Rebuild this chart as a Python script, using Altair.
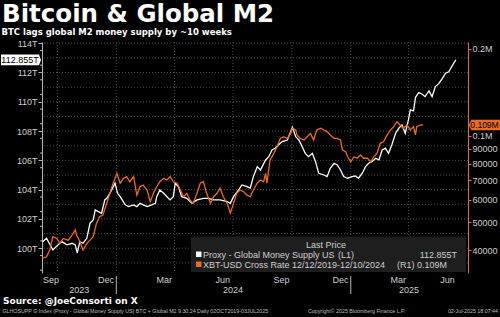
import altair as alt
import pandas as pd

# Proxy - Global Money Supply US (trillions of USD)
m2_dates = [
    "2023-09-08", "2023-09-14", "2023-09-19", "2023-09-24", "2023-10-02", "2023-10-08",
    "2023-10-16", "2023-10-24", "2023-10-29", "2023-11-01", "2023-11-05", "2023-11-10",
    "2023-11-16", "2023-11-21", "2023-11-26", "2023-11-29", "2023-12-04", "2023-12-09",
    "2023-12-14", "2023-12-17", "2023-12-22", "2023-12-30", "2024-01-03", "2024-01-07",
    "2024-01-15", "2024-01-20", "2024-01-28", "2024-02-02", "2024-02-07", "2024-02-12",
    "2024-02-18", "2024-02-25", "2024-03-02", "2024-03-04", "2024-03-09", "2024-03-15",
    "2024-03-20", "2024-03-25", "2024-03-30", "2024-04-02", "2024-04-07", "2024-04-12",
    "2024-04-20", "2024-04-28", "2024-05-06", "2024-05-16", "2024-05-24", "2024-06-01",
    "2024-06-11", "2024-06-22", "2024-06-27", "2024-07-02", "2024-07-10", "2024-07-15",
    "2024-07-23", "2024-07-28", "2024-08-02", "2024-08-08", "2024-08-13", "2024-08-21",
    "2024-08-26", "2024-08-31", "2024-09-05", "2024-09-10", "2024-09-16", "2024-09-24",
    "2024-09-29", "2024-10-02", "2024-10-07", "2024-10-12", "2024-10-17", "2024-10-22",
    "2024-10-27", "2024-11-02", "2024-11-07", "2024-11-12", "2024-11-20", "2024-11-25",
    "2024-11-30", "2024-12-06", "2024-12-11", "2024-12-16", "2024-12-21", "2024-12-27",
    "2025-01-03", "2025-01-08", "2025-01-13", "2025-01-19", "2025-01-24", "2025-01-29",
    "2025-02-03", "2025-02-09", "2025-02-14", "2025-02-19", "2025-02-24", "2025-03-01",
    "2025-03-06", "2025-03-12", "2025-03-17", "2025-03-22", "2025-03-27", "2025-04-01",
    "2025-04-04", "2025-04-09", "2025-04-12", "2025-04-17", "2025-04-22", "2025-04-27",
    "2025-05-03", "2025-05-08", "2025-05-13", "2025-05-18", "2025-05-24", "2025-05-29",
    "2025-06-03", "2025-06-09", "2025-06-14",
]
m2_values = [
    100.45, 100.68, 100.29, 99.88, 100.23, 100.45,
    100.23, 100.34, 100.23, 99.66, 100.45, 100.34,
    100.68, 101.71, 101.93, 102.61, 102.50, 102.39,
    103.30, 103.41, 103.75, 104.44, 103.75, 103.52,
    102.96, 102.84, 102.96, 102.84, 103.07, 102.96,
    102.84, 102.96, 103.07, 103.52, 103.98, 103.75,
    103.52, 103.30, 103.52, 104.44, 104.20, 103.52,
    103.41, 103.07, 103.30, 103.41, 103.41, 103.30,
    103.30, 103.18, 103.07, 103.52, 103.98, 104.32,
    104.20, 104.10, 104.89, 105.57, 105.34, 106.03,
    106.25, 106.71, 106.83, 107.05, 107.28, 107.39,
    107.96, 108.26, 107.62, 107.39, 106.94, 106.48,
    106.25, 106.48, 105.91, 105.12, 105.00, 104.89,
    105.46, 105.80, 105.69, 105.34, 104.89, 104.78,
    104.89, 104.94, 104.78, 105.12, 105.57, 105.80,
    105.91, 106.14, 106.03, 106.71, 106.83, 106.48,
    107.05, 107.85, 108.19, 108.42, 107.85, 108.76,
    109.44, 109.37, 110.29, 110.63, 110.53, 110.35,
    110.74, 110.35, 111.04, 111.22, 111.60, 111.95,
    112.05, 112.51, 112.855,
]

# XBT-USD cross rate (USD)
btc_dates = [
    "2023-09-07", "2023-09-14", "2023-09-19", "2023-09-24", "2023-09-30", "2023-10-05",
    "2023-10-10", "2023-10-18", "2023-10-24", "2023-10-29", "2023-10-31", "2023-11-05",
    "2023-11-10", "2023-11-16", "2023-11-21", "2023-11-26", "2023-12-01", "2023-12-06",
    "2023-12-11", "2023-12-17", "2023-12-22", "2023-12-27", "2024-01-02", "2024-01-07",
    "2024-01-12", "2024-01-17", "2024-01-22", "2024-01-28", "2024-02-02", "2024-02-07",
    "2024-02-12", "2024-02-18", "2024-02-23", "2024-02-28", "2024-03-04", "2024-03-09",
    "2024-03-15", "2024-03-20", "2024-03-25", "2024-03-30", "2024-04-05", "2024-04-10",
    "2024-04-15", "2024-04-20", "2024-04-25", "2024-04-30", "2024-05-06", "2024-05-11",
    "2024-05-16", "2024-05-21", "2024-05-27", "2024-06-01", "2024-06-06", "2024-06-11",
    "2024-06-16", "2024-06-22", "2024-06-27", "2024-07-02", "2024-07-07", "2024-07-12",
    "2024-07-18", "2024-07-23", "2024-07-28", "2024-08-02", "2024-08-08", "2024-08-13",
    "2024-08-18", "2024-08-21", "2024-08-23", "2024-08-28", "2024-09-03", "2024-09-08",
    "2024-09-13", "2024-09-18", "2024-09-24", "2024-09-29", "2024-10-02", "2024-10-07",
    "2024-10-09", "2024-10-14", "2024-10-20", "2024-10-25", "2024-10-30", "2024-11-04",
    "2024-11-09", "2024-11-15", "2024-11-20", "2024-11-25", "2024-11-30", "2024-12-06",
    "2024-12-11", "2024-12-16", "2024-12-19", "2024-12-24", "2024-12-27", "2025-01-01",
    "2025-01-06", "2025-01-11", "2025-01-16", "2025-01-21", "2025-01-27", "2025-02-01",
    "2025-02-06", "2025-02-11", "2025-02-16", "2025-02-21", "2025-02-27", "2025-03-04",
    "2025-03-09", "2025-03-14", "2025-03-19", "2025-03-24", "2025-03-30", "2025-04-04",
    "2025-04-09", "2025-04-12", "2025-04-14", "2025-04-19", "2025-04-24",
]
btc_values = [
    37500, 38000, 40100, 44600, 44000, 42300,
    44000, 43400, 45200, 47100, 45200, 42900,
    40100, 42300, 43400, 44600, 49600, 52300,
    53000, 58200, 63100, 68400, 74000, 68400,
    71100, 72100, 69200, 72100, 62200, 66500,
    67400, 64800, 59000, 63100, 66500, 69200,
    71100, 70200, 72100, 69200, 68400, 64800,
    61400, 63100, 59800, 58200, 63100, 68400,
    69200, 63100, 58200, 61400, 63100, 65700,
    61400, 58200, 53800, 58200, 63100, 64800,
    63900, 62200, 61400, 64800, 68400, 70200,
    69200, 74000, 68400, 82300, 86900, 91600,
    97900, 99200, 97900, 101900, 106100, 104700,
    100600, 97900, 96600, 99200, 101900, 96600,
    104700, 106100, 104700, 103300, 100600, 97900,
    97900, 96600, 89200, 88000, 84500, 81200,
    84500, 83500, 85700, 83500, 83500, 81200,
    84500, 86900, 94100, 95300, 100600, 104700,
    107500, 111800, 108900, 106100, 108900, 104700,
    107500, 100600, 107500, 108900, 109000,
]

# Axis ticks and labels
month_starts = [
    "2023-10-01", "2023-11-01", "2023-12-01", "2024-01-01", "2024-02-01", "2024-03-01",
    "2024-04-01", "2024-05-01", "2024-06-01", "2024-07-01", "2024-08-01", "2024-09-01",
    "2024-10-01", "2024-11-01", "2024-12-01", "2025-01-01", "2025-02-01", "2025-03-01",
    "2025-04-01", "2025-05-01", "2025-06-01", "2025-07-01",
]
quarter_lines = ["2023-10-01", "2024-01-01", "2024-04-01", "2024-07-01",
                 "2024-10-01", "2025-01-01", "2025-04-01"]
month_labels = ["Sep", "Dec", "Mar", "Jun", "Sep", "Dec", "Mar", "Jun"]
month_label_dates = ["2023-09-21", "2023-12-16", "2024-03-16", "2024-06-15",
                     "2024-09-15", "2024-12-16", "2025-03-16", "2025-06-01"]
year_labels = ["2023", "2024", "2025"]
year_label_dates = ["2023-11-04", "2024-07-01", "2025-04-02"]
year_breaks = ["2024-01-01", "2025-01-01"]

left_ticks = [100, 102, 104, 106, 108, 110, 112, 114]
left_grid = [99, 100, 101, 102, 103, 104, 105, 106, 107, 108, 109, 110, 111, 112, 113, 114]
left_minor = [98.5, 99.5, 100.5, 101.5, 102.5, 103.5, 104.5, 105.5, 106.5,
              107.5, 108.5, 109.5, 110.5, 111.5, 112.5, 113.5]
right_ticks = [40000, 50000, 60000, 70000, 80000, 90000, 100000, 200000]

X_START, X_END = "2023-09-07", "2025-07-03"

WHITE = "#ffffff"
ORANGE = "#ea6b24"
LABEL = "#cfcfcf"
GRID = "#4d4d4d"
AXIS = "#b5b5b5"
FONT = "Liberation Sans"
BOLD = "DejaVu Sans"

W, H = 426, 231


def dt(s):
    y, m, d = (int(p) for p in s.split("-"))
    return alt.DateTime(year=y, month=m, date=d)


m2 = pd.DataFrame({"date": pd.to_datetime(m2_dates), "value": m2_values})
btc = pd.DataFrame({"date": pd.to_datetime(btc_dates), "value": btc_values})

m2_last = m2_values[-1]
btc_last = btc_values[-1]
m2_last_text = f"{m2_last:.3f}T"
btc_last_text = f"{btc_last / 1e6:.3f}M"

LEFT_DOMAIN = [98.31, 114.08]
RIGHT_DOMAIN = [33370, 211500]


def xs():
    return alt.Scale(domain=[dt(X_START), dt(X_END)])


def ys_left():
    return alt.Scale(domain=LEFT_DOMAIN, nice=False, zero=False)


def ys_right():
    return alt.Scale(type="log", domain=RIGHT_DOMAIN, nice=False)


x_axis = alt.Axis(
    title=None, labels=False, grid=False,
    values=[dt(s) for s in month_starts],
    tickSize=3, tickColor=AXIS, domainColor=AXIS, domainWidth=1,
)
left_axis = alt.Axis(
    title=None, orient="left", values=left_ticks, grid=False,
    labelExpr="datum.value + 'T'", labelColor=LABEL, labelFont=FONT, labelFontSize=9,
    labelPadding=1, tickSize=4, tickColor=AXIS, domainColor=AXIS,
)
right_axis = alt.Axis(
    title=None, orient="right", values=right_ticks, grid=False,
    labelExpr="datum.value >= 100000 ? format(datum.value / 1000000, '.1f') + 'M' : format(datum.value, 'd')",
    labelColor=LABEL, labelFont=FONT, labelFontSize=9, labelPadding=1,
    tickSize=3, tickColor=ORANGE, domainColor=ORANGE,
)


def note(text, x, y, size=9, color=LABEL, font=FONT, weight="normal", align="left"):
    return alt.Chart(pd.DataFrame({"label": [text]})).mark_text(
        align=align, baseline="alphabetic", font=font, fontSize=size,
        fontWeight=weight, color=color,
    ).encode(x=alt.value(x), y=alt.value(y), text="label:N")


def box(x, x2, y, y2, color, opacity=1.0):
    return alt.Chart(pd.DataFrame({"k": [0]})).mark_rect(
        color=color, opacity=opacity
    ).encode(x=alt.value(x), x2=alt.value(x2), y=alt.value(y), y2=alt.value(y2))


# gridlines and minor ticks on the left (M2) scale
grid_h = alt.Chart(pd.DataFrame({"v": left_grid})).mark_rule(
    color=GRID, strokeDash=[1, 2], strokeWidth=1
).encode(y=alt.Y("v:Q", scale=ys_left(), axis=None))

minor_ticks = alt.Chart(pd.DataFrame({"v": left_minor})).mark_rule(
    color=AXIS, strokeWidth=1
).encode(y=alt.Y("v:Q", scale=ys_left(), axis=None), x=alt.value(-2), x2=alt.value(0))

grid_v = alt.Chart(pd.DataFrame({"date": pd.to_datetime(quarter_lines)})).mark_rule(
    color=GRID, strokeDash=[1, 2], strokeWidth=1
).encode(x=alt.X("date:T", scale=xs(), axis=None))

# M2 line with its last-price tag
m2_line = alt.Chart(m2).mark_line(color=WHITE, strokeWidth=1.3).encode(
    x=alt.X("date:T", scale=xs(), axis=x_axis),
    y=alt.Y("value:Q", scale=ys_left(), axis=left_axis),
)
m2_tag_df = pd.DataFrame({"value": [m2_last], "label": [m2_last_text]})
m2_tag = alt.Chart(m2_tag_df).mark_point(
    shape="M-1,-0.27L0.9,-0.27L1,0L0.9,0.27L-1,0.27Z",
    filled=True, size=1600, color=WHITE, opacity=1, strokeWidth=0,
).encode(x=alt.value(-21), y=alt.Y("value:Q", scale=ys_left(), axis=None))
m2_tag_text = alt.Chart(m2_tag_df).mark_text(
    font=FONT, fontSize=9, color="#000000", align="center", baseline="middle"
).encode(x=alt.value(-22), y=alt.Y("value:Q", scale=ys_left(), axis=None), text="label:N")

# BTC line with its last-price tag
btc_line = alt.Chart(btc).mark_line(color=ORANGE, strokeWidth=1.3).encode(
    x=alt.X("date:T", scale=xs(), axis=None),
    y=alt.Y("value:Q", scale=ys_right(), axis=right_axis),
)
btc_tag_df = pd.DataFrame({"value": [btc_last], "label": [btc_last_text]})
btc_tag = alt.Chart(btc_tag_df).mark_point(
    shape="M-1,0L-0.84,-0.31L1,-0.31L1,0.31L-0.84,0.31Z",
    filled=True, size=1130, color=ORANGE, opacity=1, strokeWidth=0,
).encode(x=alt.value(443.5), y=alt.Y("value:Q", scale=ys_right(), axis=None))
btc_tag_text = alt.Chart(btc_tag_df).mark_text(
    font=FONT, fontSize=8.5, color="#000000", align="center", baseline="middle"
).encode(x=alt.value(442.5), y=alt.Y("value:Q", scale=ys_right(), axis=None), text="label:N")

# date labels below the axis
months = alt.Chart(pd.DataFrame({"date": pd.to_datetime(month_label_dates),
                                 "label": month_labels})).mark_text(
    font=FONT, fontSize=9, color=LABEL, align="center", baseline="alphabetic"
).encode(x=alt.X("date:T", scale=xs(), axis=None), y=alt.value(241), text="label:N")

years = alt.Chart(pd.DataFrame({"date": pd.to_datetime(year_label_dates),
                                "label": year_labels})).mark_text(
    font=FONT, fontSize=9, color=LABEL, align="center", baseline="alphabetic"
).encode(x=alt.X("date:T", scale=xs(), axis=None), y=alt.value(251), text="label:N")

year_sep = alt.Chart(pd.DataFrame({"date": pd.to_datetime(year_breaks)})).mark_rule(
    color=AXIS, strokeWidth=1
).encode(x=alt.X("date:T", scale=xs(), axis=None), y=alt.value(234), y2=alt.value(252))

# legend panel
legend = [
    box(149, 424, 194.5, 230, "#1e1e1e"),
    note("Last Price", 284, 206, size=9, align="center"),
    box(154, 159.5, 209.5, 215, WHITE),
    note("Proxy - Global Money Supply US", 161, 215.5, size=9),
    note("(L1)", 296, 215.5, size=9),
    note(m2_last_text, 415, 215.5, size=9, align="right"),
    box(154, 159.5, 219.5, 225, ORANGE),
    note("XBT-USD Cross Rate 12/12/2019-12/10/2024", 161, 225.5, size=9),
    note(f"(R1) {btc_last_text}", 405, 225.5, size=9, align="right"),
]

# titles and footer
texts = [
    note("Bitcoin & Global M2", -40, -20.5, size=24.5, color=WHITE, font=BOLD, weight="bold"),
    note("BTC lags global M2 money supply by ~10 weeks", -40.5, -7.5, size=8.5,
         color=WHITE, font=BOLD, weight="bold"),
    note("Source: @JoeConsorti on X", -39, 261.5, size=9, color=WHITE, font=BOLD, weight="bold"),
    note(".GLHOSUPP G Index (Proxy - Global Money Supply US) BTC + Global M2 9.30.24   Daily 02OCT2019-03JUL2025",
         -41, 271, size=5.3, color="#bdbdbd"),
    note("Copyright\u00a9 2025 Bloomberg Finance L.P.", 266, 271, size=5.3, color="#bdbdbd"),
    note("02-Jul-2025 18:07:44", 456, 271, size=5.3, color="#bdbdbd", align="right"),
]

chart = alt.layer(
    grid_h, grid_v, minor_ticks,
    m2_line, btc_line,
    m2_tag, m2_tag_text, btc_tag, btc_tag_text,
    months, years, year_sep,
    *legend, *texts,
).resolve_scale(y="independent").resolve_axis(y="independent").properties(
    width=W, height=H, background="#000000",
    padding={"left": 42, "top": 42, "right": 32, "bottom": 44},
    autosize=alt.AutoSizeParams(type="none"),
).configure_view(stroke=None)

chart.save("out.html", embed_options={"renderer": "svg", "actions": False})
